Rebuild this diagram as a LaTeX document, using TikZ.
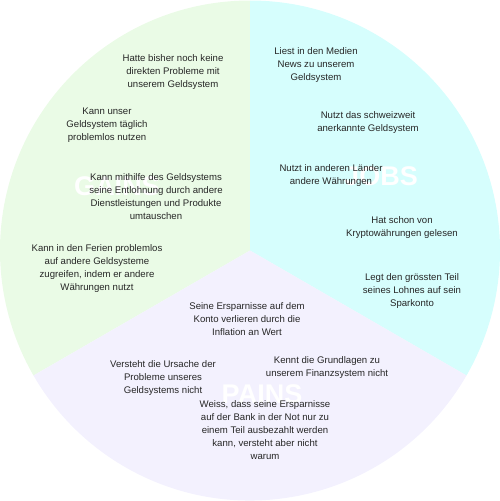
\documentclass[tikz,border=0pt]{standalone}
\usepackage{fontspec}
\setmainfont{Liberation Sans}
\definecolor{gainc}{HTML}{EAFBE6}
\definecolor{jobc}{HTML}{D6FEFD}
\definecolor{painc}{HTML}{F3F1FE}
\definecolor{txtc}{HTML}{262626}
\tikzset{
  item/.style={align=center, inner sep=0pt, text=txtc, font=\fontsize{9.6pt}{13pt}\selectfont},
  biglabel/.style={inner sep=0pt, text=white, font=\fontsize{27pt}{30pt}\selectfont\bfseries}
}
\begin{document}
\begin{tikzpicture}[x=1pt,y=-1pt]
\useasboundingbox (0,0) rectangle (500,501);
\coordinate (C) at (250,250.5);
\fill[gainc] (C) -- ++(0,-250) arc[start angle=-90,end angle=-210,radius=250] -- cycle;
\fill[jobc] (C) -- ++(0,-250) arc[start angle=-90,end angle=30,radius=250] -- cycle;
\fill[painc] (C) -- ++(30:250) arc[start angle=30,end angle=150,radius=250] -- cycle;
% big labels
\node[biglabel] (gains) at (117,186) {GAINS};
\node[biglabel] (jobs) at (381,176) {JOBS};
\node[biglabel] (pains) at (262,394) {PAINS};
% gains
\node[item] (g1) at (173,72) {Hatte bisher noch keine\\direkten Probleme mit\\unserem Geldsystem};
\node[item] (g2) at (107,125) {Kann unser\\Geldsystem täglich\\problemlos nutzen};
\node[item] (g3) at (156,196.5) {Kann mithilfe des Geldsystems\\seine Entlohnung durch andere\\Dienstleistungen und Produkte\\umtauschen};
\node[item] (g4) at (97,268.5) {Kann in den Ferien problemlos\\auf andere Geldsysteme\\zugreifen, indem er andere\\Währungen nutzt};
% jobs
\node[item] (j1) at (316,65.5) {Liest in den Medien\\News zu unserem\\Geldsystem};
\node[item] (j2) at (368,122.5) {Nutzt das schweizweit\\anerkannte Geldsystem};
\node[item] (j3) at (331,175.5) {Nutzt in anderen Länder\\andere Währungen};
\node[item] (j4) at (402,227.5) {Hat schon von\\Kryptowährungen gelesen};
\node[item] (j5) at (412,291.5) {Legt den grössten Teil\\seines Lohnes auf sein\\Sparkonto};
% pains
\node[item] (p1) at (247,319) {Seine Ersparnisse auf dem\\Konto verlieren durch die\\Inflation an Wert};
\node[item] (p2) at (327,367.5) {Kennt die Grundlagen zu\\unserem Finanzsystem nicht};
\node[item] (p3) at (163,378.5) {Versteht die Ursache der\\Probleme unseres\\Geldsystems nicht};
\node[item] (p4) at (265,430) {Weiss, dass seine Ersparnisse\\auf der Bank in der Not nur zu\\einem Teil ausbezahlt werden\\kann, versteht aber nicht\\warum};
\end{tikzpicture}
\end{document}
